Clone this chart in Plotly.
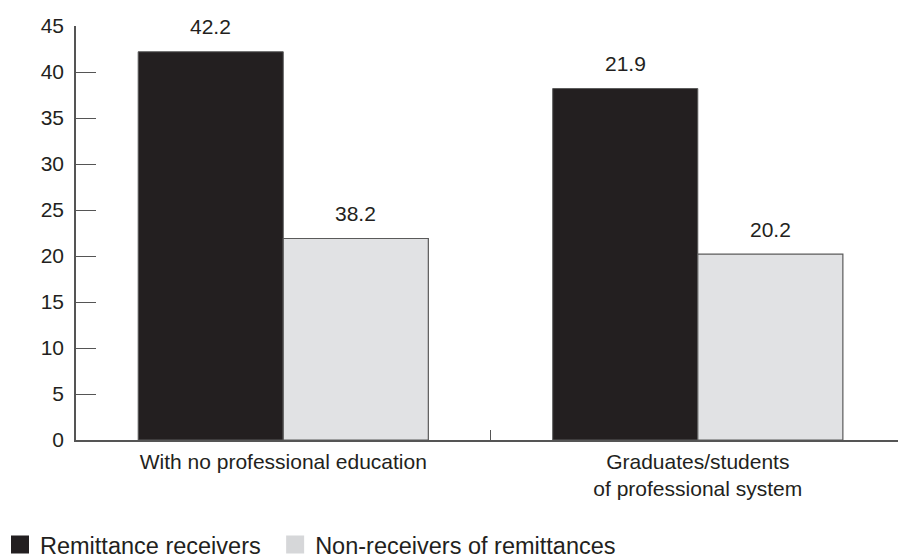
import plotly.graph_objects as go

categories = ["With no professional education", "Graduates/students<br>of professional system"]
receivers = [42.2, 38.2]
non_receivers = [21.9, 20.2]
receivers_labels = ["42.2", "21.9"]
non_receivers_labels = ["38.2", "20.2"]
y_ticks = [0, 5, 10, 15, 20, 25, 30, 35, 40, 45]
series_names = ["Remittance receivers", "Non-receivers of remittances"]
bar_colors = ["#231f20", "#e1e2e4"]
legend_colors = ["#231f20", "#d6d7d9"]

TXT = "#231f20"
AX = "#555555"
FONT = "Liberation Sans, Arial, sans-serif"

fig = go.Figure()
for name, vals, col, lw in zip(series_names, [receivers, non_receivers], bar_colors, [1, 1.2]):
    fig.add_trace(go.Bar(name=name, x=categories, y=vals, showlegend=False,
                         marker=dict(color=col, line=dict(color="#5a5a5a", width=lw))))
# legend entries (larger square swatches), one legend box each
for name, col, lg in zip(series_names, legend_colors, ["legend", "legend2"]):
    fig.add_trace(go.Scatter(name=name, x=[None], y=[None], mode="markers", legend=lg,
                             marker=dict(symbol="square", size=16, color=col,
                                         line=dict(color=col, width=2))))

bargap = 0.3
bw = (1 - bargap) / 2
for i in range(len(categories)):
    for k, (vals, labs) in enumerate([(receivers, receivers_labels), (non_receivers, non_receivers_labels)]):
        fig.add_annotation(x=i - (1 - bargap) / 2 + bw * (k + 0.5), y=vals[i], text=labs[i],
                           showarrow=False, yshift=25, yanchor="middle",
                           font=dict(size=21, color=TXT, family=FONT))

leg_common = dict(orientation="h", xref="container", yref="container", xanchor="left",
                  y=0.024, yanchor="middle", font=dict(size=23.5, color=TXT, family=FONT),
                  itemsizing="trace", bgcolor="rgba(0,0,0,0)")
fig.update_layout(
    width=898, height=558,
    margin=dict(l=76, r=0, t=26, b=118),
    paper_bgcolor="white", plot_bgcolor="white",
    barmode="group", bargap=bargap, bargroupgap=0,
    font=dict(family=FONT, size=21, color=TXT),
    showlegend=True,
    legend=dict(x=-0.011, **leg_common),
    legend2=dict(x=0.3064, **leg_common),
)
fig.update_yaxes(range=[0, 45], tickvals=y_ticks, ticks="inside", ticklen=20, tickcolor=AX,
                 showline=True, linecolor=AX, linewidth=1.5, showgrid=False, zeroline=False,
                 ticklabelstandoff=6, tickfont=dict(size=21, color=TXT))
fig.update_xaxes(type="category", range=[-0.5, 1.483], ticks="inside", tickson="boundaries", ticklen=10,
                 tickcolor=AX, showline=True, linecolor=AX, linewidth=1.5, showgrid=False,
                 ticklabelstandoff=2, tickfont=dict(size=21, color=TXT))

fig.write_html("out.html")
